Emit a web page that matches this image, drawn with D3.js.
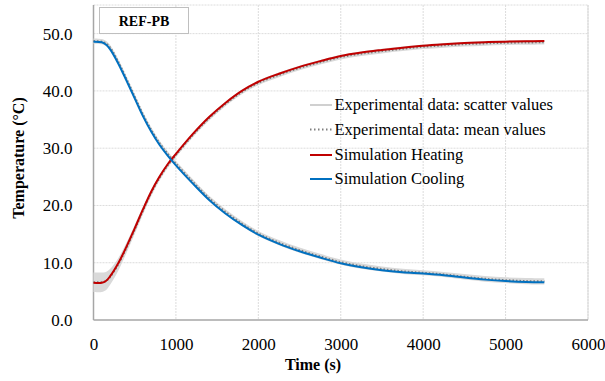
<!DOCTYPE html>
<html><head><meta charset="utf-8">
<script src="https://cdn.jsdelivr.net/npm/d3@7"></script>
<style>body{margin:0;background:#fff}svg{display:block}text{font-family:"Liberation Serif",serif;fill:#000}</style>
</head><body><svg id="c" width="605" height="381"></svg>
<script>
const times = [0,100,150,200,300,400,500,600,700,800,900,1000,1200,1400,1600,1800,2000,2250,2500,2750,3000,3250,3500,3750,4000,4250,4500,4750,5000,5250,5470];
const simHeating = [6.5,6.5,6.8,7.6,9.9,12.8,16.0,19.3,22.4,25.0,27.2,29.0,32.4,35.4,37.9,40.0,41.6,43.0,44.2,45.2,46.1,46.7,47.15,47.55,47.9,48.15,48.35,48.5,48.6,48.65,48.7];
const simCooling = [48.6,48.5,48.1,47.3,44.8,41.8,38.7,35.6,32.9,30.6,28.7,27.0,23.9,21.0,18.6,16.6,14.9,13.3,12.0,10.9,9.9,9.2,8.7,8.35,8.1,7.8,7.4,7.05,6.8,6.65,6.6];
const expHeatMean = [6.6,6.6,6.8,7.5,9.7,12.6,15.8,19.1,22.2,24.8,27.0,28.8,32.2,35.2,37.7,39.8,41.4,42.8,44.0,45.0,45.9,46.5,46.95,47.35,47.7,47.95,48.15,48.3,48.4,48.45,48.5];
const expHeatLow = [4.9,4.9,5.2,6.1,8.6,11.7,15.0,18.4,21.6,24.3,26.55,28.4,31.8,34.8,37.3,39.4,41.0,42.4,43.6,44.6,45.5,46.1,46.55,46.95,47.3,47.55,47.75,47.9,48.0,48.05,48.1];
const expHeatHigh = [8.3,8.3,8.4,8.9,10.8,13.5,16.6,19.8,22.8,25.3,27.45,29.2,32.6,35.6,38.1,40.2,41.8,43.2,44.4,45.4,46.3,46.9,47.35,47.75,48.1,48.35,48.55,48.7,48.8,48.85,48.9];
const expCoolMean = [48.7,48.6,48.3,47.6,45.1,42.1,39.0,35.9,33.2,30.9,29.0,27.3,24.2,21.3,18.9,16.85,15.1,13.5,12.2,11.1,10.1,9.4,8.9,8.5,8.25,7.95,7.55,7.2,6.95,6.8,6.75];
const expCoolLow = [48.25,48.15,47.85,47.15,44.65,41.65,38.55,35.45,32.75,30.45,28.55,26.85,23.75,20.85,18.45,16.4,14.65,13.05,11.75,10.65,9.65,8.95,8.45,8.05,7.8,7.5,7.05,6.7,6.45,6.25,6.2];
const expCoolHigh = [49.15,49.05,48.75,48.05,45.55,42.55,39.45,36.35,33.65,31.35,29.45,27.75,24.65,21.75,19.35,17.3,15.55,13.95,12.65,11.55,10.55,9.85,9.35,8.95,8.7,8.4,8.05,7.7,7.45,7.35,7.3];
const xTicks = [0,1000,2000,3000,4000,5000,6000];
const yTicks = [0,10,20,30,40,50];
const legendLabels = ["Experimental data: scatter values","Experimental data: mean values","Simulation Heating","Simulation Cooling"];
const chartTitle = "REF-PB";

const svg = d3.select("#c");
const L=93.5, R=588, T=5, B=320;
const x = d3.scaleLinear().domain([0,6000]).range([L,R]);
const y = d3.scaleLinear().domain([0,55]).range([B,T]);

// gridlines
const g = svg.append("g");
g.selectAll(".vg").data(xTicks.slice(1)).join("line")
 .attr("x1",d=>x(d)).attr("x2",d=>x(d)).attr("y1",T).attr("y2",B)
 .attr("stroke","#dcdcdc").attr("stroke-width",1).attr("stroke-dasharray","2,1");
g.selectAll(".hg").data(yTicks.slice(1).concat([55])).join("line")
 .attr("x1",L).attr("x2",R).attr("y1",d=>y(d)).attr("y2",d=>y(d))
 .attr("stroke","#dcdcdc").attr("stroke-width",1).attr("stroke-dasharray","2,1");
g.append("line").attr("x1",R).attr("x2",R).attr("y1",T).attr("y2",B).attr("stroke","#d9d9d9");

// axes
const xAxis = d3.axisBottom(x).tickValues(xTicks).tickSize(0).tickPadding(18).tickFormat(d3.format("d"));
const yAxis = d3.axisLeft(y).tickValues(yTicks).tickSize(0).tickPadding(21).tickFormat(d3.format(".1f"));
const gx = svg.append("g").attr("transform",`translate(0,${B})`).call(xAxis);
const gy = svg.append("g").attr("transform",`translate(${L},0)`).call(yAxis);
[gx,gy].forEach(a=>{a.select(".domain").attr("stroke","#a6a6a6").attr("stroke-width",1.5);
 a.selectAll("text").style("font-family","Liberation Serif, serif").style("font-size","17px").attr("fill","#222");});
gy.select(".domain").attr("d",`M0,${T}V${B}`);
gx.select(".domain").attr("d",`M${L},0H${R}`);

const idx = d3.range(times.length);
const curve = d3.curveCatmullRom.alpha(0.5);
const area = (lo,hi)=>d3.area().curve(curve).x(i=>x(times[i])).y0(i=>y(lo[i])).y1(i=>y(hi[i]));
const line = arr=>d3.line().curve(curve).x(i=>x(times[i])).y(i=>y(arr[i]));

svg.append("path").attr("d",area(expHeatLow,expHeatHigh)(idx)).attr("fill","#d9d9d9");
svg.append("path").attr("d",area(expCoolLow,expCoolHigh)(idx)).attr("fill","#d9d9d9");
[expHeatMean,expCoolMean].forEach(a=>svg.append("path").attr("d",line(a)(idx)).attr("fill","none")
 .attr("stroke","#7f7f7f").attr("stroke-width",2).attr("stroke-dasharray","1.5,2"));
svg.append("path").attr("d",line(simHeating)(idx)).attr("fill","none").attr("stroke","#c00000").attr("stroke-width",2);
svg.append("path").attr("d",line(simCooling)(idx)).attr("fill","none").attr("stroke","#0070c0").attr("stroke-width",2);

// title box
svg.append("rect").attr("x",99.5).attr("y",7.5).attr("width",89).attr("height",26).attr("fill","#fff").attr("stroke","#bfbfbf").attr("stroke-width",1);
svg.append("text").attr("x",144).attr("y",25.5).attr("text-anchor","middle").style("font-size","14px").style("font-weight","bold").text(chartTitle);

// legend
const lg = svg.append("g");
const rowsY = [105,129.5,155,179];
const styles = [{c:"#d0d0d0",d:null},{c:"#7f7f7f",d:"1.5,2.5"},{c:"#c00000",d:null},{c:"#0070c0",d:null}];
legendLabels.forEach((lab,i)=>{
  lg.append("line").attr("x1",310).attr("x2",332).attr("y1",rowsY[i]).attr("y2",rowsY[i])
    .attr("stroke",styles[i].c).attr("stroke-width",2).attr("stroke-dasharray",styles[i].d);
  lg.append("text").attr("x",334.5).attr("y",rowsY[i]+5).style("font-size","16.5px").attr("fill","#222").text(lab);
});

// axis titles
svg.append("text").attr("x",313).attr("y",370).attr("text-anchor","middle").style("font-size","16px").style("font-weight","bold").text("Time (s)");
svg.append("text").attr("transform",`translate(24,158) rotate(-90)`).attr("text-anchor","middle").style("font-size","16px").style("font-weight","bold").text("Temperature (°C)");
</script></body></html>
